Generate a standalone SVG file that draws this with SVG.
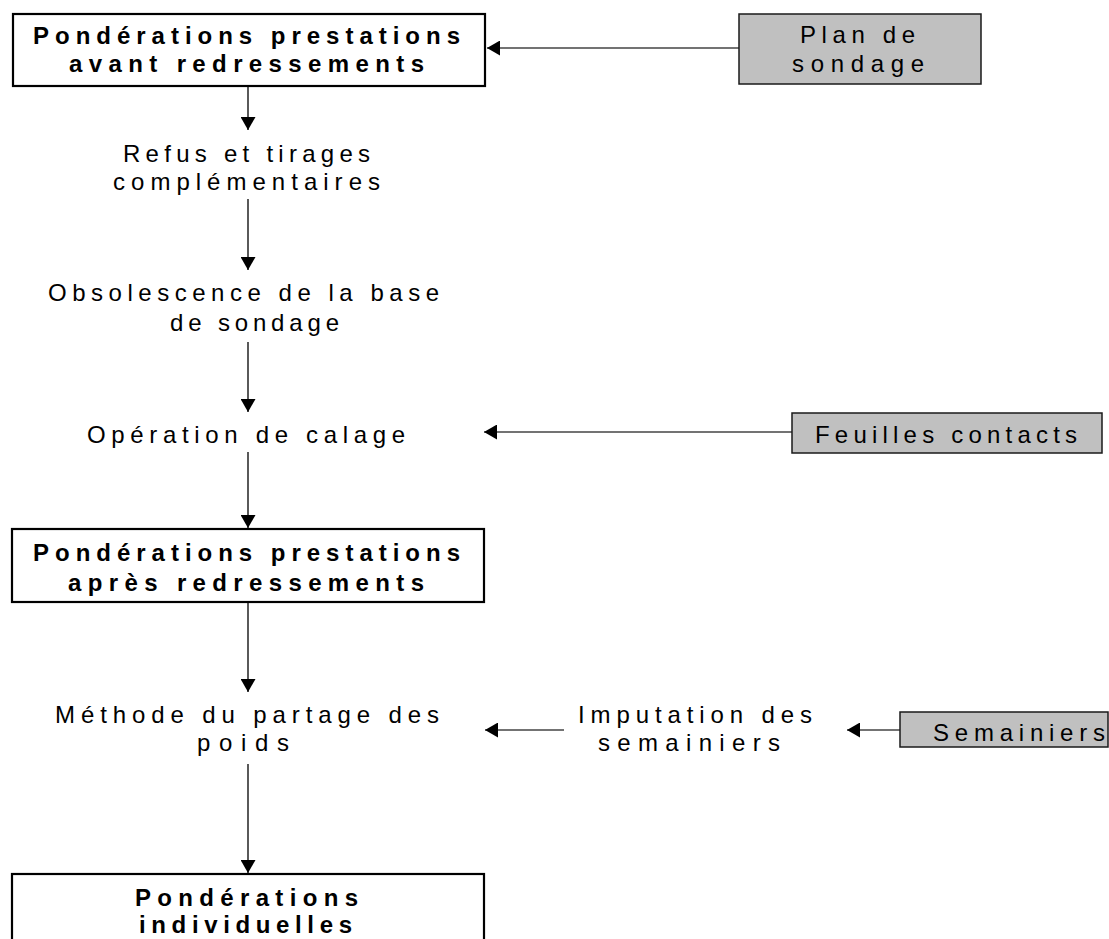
<svg xmlns="http://www.w3.org/2000/svg" width="1109" height="939" viewBox="0 0 1109 939">
<style>
text{font-family:"Liberation Sans",Arial,sans-serif;font-size:24px;fill:#000}
.b{font-weight:bold}
.box{fill:#fff;stroke:#000;stroke-width:2.2}
.gbox{fill:#c0c0c0;stroke:#1a1a1a;stroke-width:1.5}
.v{stroke:#000;stroke-width:1.3;fill:none}
.h{stroke:#444;stroke-width:1.3;fill:none}
</style>
<defs>
<marker id="ah" markerWidth="13" markerHeight="15" refX="13" refY="7.5" orient="auto" markerUnits="userSpaceOnUse">
<path d="M0,0 L13,7.5 L0,15 Z" fill="#000"/>
</marker>
</defs>
<rect width="1109" height="939" fill="#fff"/>
<g id="connectors">
<line class="v" x1="248" y1="86" x2="248" y2="130" marker-end="url(#ah)"/>
<line class="v" x1="248" y1="199" x2="248" y2="270" marker-end="url(#ah)"/>
<line class="v" x1="248" y1="342" x2="248" y2="412" marker-end="url(#ah)"/>
<line class="v" x1="248" y1="452" x2="248" y2="528" marker-end="url(#ah)"/>
<line class="v" x1="248" y1="603" x2="248" y2="692" marker-end="url(#ah)"/>
<line class="v" x1="248" y1="764" x2="248" y2="873" marker-end="url(#ah)"/>
<line class="h" x1="739" y1="48" x2="487" y2="48" marker-end="url(#ah)"/>
<line class="h" x1="792" y1="432" x2="484" y2="432" marker-end="url(#ah)"/>
<line class="h" x1="564" y1="730" x2="485" y2="730" marker-end="url(#ah)"/>
<line class="h" x1="900" y1="730" x2="847" y2="730" marker-end="url(#ah)"/>
</g>
<g id="n-avant">
<rect class="box" x="13" y="14" width="472" height="72"/>
<text class="b" x="33" y="44" textLength="427" lengthAdjust="spacing">Pondérations prestations</text>
<text class="b" x="69" y="72" textLength="355" lengthAdjust="spacing">avant redressements</text>
</g>
<g id="n-plan">
<rect class="gbox" x="739" y="14" width="242" height="70"/>
<text x="800" y="43" textLength="115" lengthAdjust="spacing">Plan de</text>
<text x="792" y="72" textLength="132" lengthAdjust="spacing">sondage</text>
</g>
<g id="n-refus">
<text x="123" y="162" textLength="247" lengthAdjust="spacing">Refus et tirages</text>
<text x="113" y="190" textLength="267" lengthAdjust="spacing">complémentaires</text>
</g>
<g id="n-obsolescence">
<text x="48" y="301" textLength="391" lengthAdjust="spacing">Obsolescence de la base</text>
<text x="170" y="331" textLength="169" lengthAdjust="spacing">de sondage</text>
</g>
<g id="n-calage">
<text x="87" y="443" textLength="318" lengthAdjust="spacing">Opération de calage</text>
</g>
<g id="n-feuilles">
<rect class="gbox" x="792" y="413" width="310" height="40"/>
<text x="815" y="443" textLength="262" lengthAdjust="spacing">Feuilles contacts</text>
</g>
<g id="n-apres">
<rect class="box" x="12" y="529" width="472" height="73"/>
<text class="b" x="33" y="561" textLength="427" lengthAdjust="spacing">Pondérations prestations</text>
<text class="b" x="68" y="591" textLength="356" lengthAdjust="spacing">après redressements</text>
</g>
<g id="n-methode">
<text x="55" y="723" textLength="384" lengthAdjust="spacing">Méthode du partage des</text>
<text x="197" y="751" textLength="92" lengthAdjust="spacing">poids</text>
</g>
<g id="n-imputation">
<text x="578" y="723" textLength="234" lengthAdjust="spacing">Imputation des</text>
<text x="598" y="751" textLength="182" lengthAdjust="spacing">semainiers</text>
</g>
<g id="n-semainiers">
<rect class="gbox" x="900" y="712" width="208" height="35"/>
<text x="933" y="741" textLength="172" lengthAdjust="spacing">Semainiers</text>
</g>
<g id="n-individuelles">
<rect class="box" x="12" y="874" width="472" height="80"/>
<text class="b" x="135" y="906" textLength="223" lengthAdjust="spacing">Pondérations</text>
<text class="b" x="139" y="933" textLength="213" lengthAdjust="spacing">individuelles</text>
</g>
</svg>
